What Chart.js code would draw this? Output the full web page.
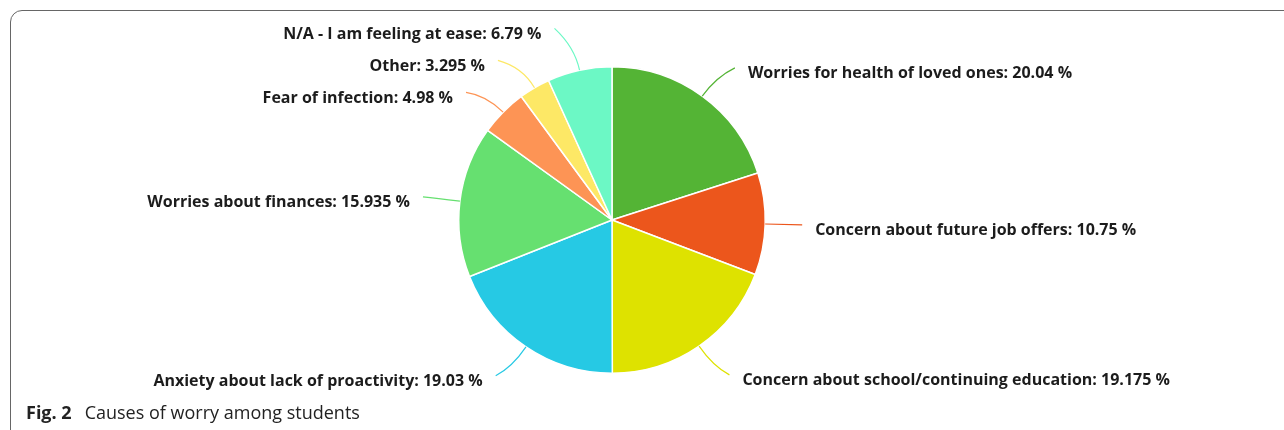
<!DOCTYPE html>
<html>
<head>
<meta charset="utf-8">
<script src="https://cdn.jsdelivr.net/npm/chart.js@4"></script>
<style>
  html, body { margin: 0; padding: 0; background: #fff; }
  #wrap { position: relative; width: 1284px; height: 430px; overflow: hidden; }
  #frame {
    position: absolute; left: 10px; top: 10px; width: 1300px; height: 440px;
    border: 1.6px solid #666; border-radius: 12px; box-sizing: border-box;
  }
  #caption {
    position: absolute; left: 26px; top: 400px;
    font-family: "Open Sans", sans-serif; font-size: 18px; color: #222;
    white-space: nowrap;
  }
  #caption b { margin-right: 13px; }
  canvas { position: absolute; left: 0; top: 0; }
</style>
</head>
<body>
<div id="wrap">
  <div id="frame"></div>
  <canvas id="pie" width="1284" height="430"></canvas>
  <div id="caption"><b>Fig. 2</b>Causes of worry among students</div>
</div>
<script>
const labels = [
  'Worries for health of loved ones',
  'Concern about future job offers',
  'Concern about school/continuing education',
  'Anxiety about lack of proactivity',
  'Worries about finances',
  'Fear of infection',
  'Other',
  'N/A - I am feeling at ease'
];
const values = [20.04, 10.75, 19.175, 19.03, 15.935, 4.98, 3.295, 6.79];
const colors = ['#54b435', '#ec561c', '#dee200', '#26c9e4', '#66e070', '#fd9455', '#fde866', '#6cf8c5'];

// draws the outside labels with soft connector lines
const outsideLabels = {
  id: 'outsideLabels',
  afterDraw(chart) {
    const ctx = chart.ctx;
    const arcs = chart.getDatasetMeta(0).data;
    const items = arcs.map((arc, i) => {
      const a = (arc.startAngle + arc.endAngle) / 2;
      const r = arc.outerRadius;
      const side = Math.cos(a) >= 0 ? 1 : -1;
      return {
        i, a, r, side, cx: arc.x, cy: arc.y,
        y: arc.y + Math.sin(a) * (r + 35) + 6
      };
    });

    // spread overlapping labels on each side
    [1, -1].forEach(side => {
      const list = items.filter(it => it.side === side).sort((p, q) => p.y - q.y);
      const gap = 32;
      for (let iter = 0; iter < 50; iter++) {
        let moved = false;
        for (let k = 1; k < list.length; k++) {
          const d = list[k].y - list[k - 1].y;
          if (d < gap) {
            const push = (gap - d) / 2;
            list[k].y += push;
            list[k - 1].y -= push;
            moved = true;
          }
        }
        if (!moved) break;
      }
    });

    ctx.save();
    ctx.font = 'bold 16px "Open Sans", sans-serif';
    ctx.textBaseline = 'middle';
    items.forEach(it => {
      const dy = it.y - (it.cy + 5);
      const R = it.r + 50;
      const dx = Math.sqrt(Math.max(0, R * R - dy * dy));
      const tx = it.cx + it.side * dx;
      const sx = it.cx + Math.cos(it.a) * it.r;
      const sy = it.cy + Math.sin(it.a) * it.r;
      const bx = it.cx + Math.cos(it.a) * (it.r + 24);
      const by = it.cy + Math.sin(it.a) * (it.r + 24);
      const ex = tx - it.side * 13;
      const ey = it.y - 6;

      ctx.strokeStyle = colors[it.i];
      ctx.lineWidth = 1.2;
      ctx.beginPath();
      ctx.moveTo(sx, sy);
      ctx.quadraticCurveTo(bx, by, ex, ey);
      ctx.stroke();

      ctx.fillStyle = '#1c1c1c';
      ctx.textAlign = it.side > 0 ? 'left' : 'right';
      ctx.fillText(labels[it.i] + ': ' + values[it.i] + ' %', tx, it.y);
    });
    ctx.restore();
  }
};

new Chart(document.getElementById('pie'), {
  type: 'pie',
  data: {
    labels: labels,
    datasets: [{
      data: values,
      backgroundColor: colors,
      borderColor: '#ffffff',
      borderWidth: 1.5
    }]
  },
  options: {
    responsive: false,
    animation: false,
    layout: { padding: { top: 66, bottom: 56, left: 0, right: 60 } },
    plugins: { legend: { display: false }, tooltip: { enabled: false } }
  },
  plugins: [outsideLabels]
});
</script>
</body>
</html>
